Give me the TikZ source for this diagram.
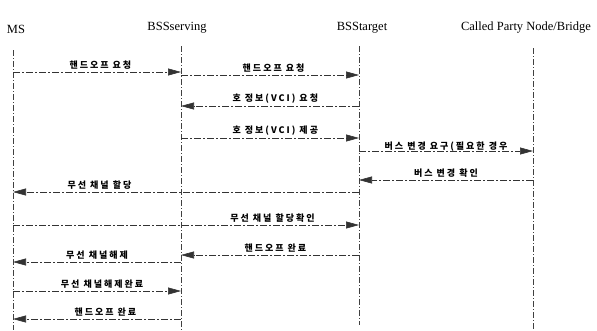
\documentclass[tikz,border=0pt]{standalone}
\usepackage{fontspec}
\setmainfont{Liberation Serif}
\newfontfamily\kor[LetterSpace=22]{Noto Sans CJK KR}
\usetikzlibrary{arrows.meta}
\tikzset{
  hdr/.style={font=\fontsize{12.5}{14}\selectfont, inner sep=0pt},
  life/.style={draw=black!75, line width=0.6pt, dash pattern=on 6pt off 2pt on 1pt off 2pt},
  msg/.style={draw=black!80, line width=0.6pt, dash pattern=on 7pt off 2pt on 2pt off 2pt,
    -{Triangle[length=13pt,width=7pt]}},
  lbl/.style={font=\kor\bfseries\fontsize{9}{11}\selectfont, inner sep=1pt, anchor=south, yshift=1.5pt}
}
\begin{document}
\begin{tikzpicture}[x=1pt,y=-1pt]
\useasboundingbox (0,0) rectangle (597,330);
% headers
\node[hdr] (hms) at (16,29) {MS};
\node[hdr] (hsrv) at (177,28) {BSSserving};
\node[hdr] (htgt) at (362,28) {BSStarget};
\node[hdr] (hcpn) at (526,28) {Called Party Node/Bridge};
% lifelines
\coordinate (msT) at (13,50);   \coordinate (msB) at (13,330);
\coordinate (srvT) at (181,46); \coordinate (srvB) at (181,330);
\coordinate (tgtT) at (359,46); \coordinate (tgtB) at (359,325);
\coordinate (cpnT) at (533,48); \coordinate (cpnB) at (533,330);
\draw[life] (msT) -- (msB);
\draw[life] (srvT) -- (srvB);
\draw[life] (tgtT) -- (tgtB);
\draw[life] (cpnT) -- (cpnB);
% messages
\draw[msg] (msT |- 0,72) -- node[lbl, pos=0.52] {핸드오프 요청} (srvT |- 0,72);
\draw[msg] (srvT |- 0,75) -- node[lbl, pos=0.52] {핸드오프 요청} (tgtT |- 0,75);
\draw[msg] (tgtT |- 0,106) -- node[lbl, pos=0.47] {호 정보(VCI) 요청} (srvT |- 0,106);
\draw[msg] (srvT |- 0,138) -- node[lbl, pos=0.53] {호 정보(VCI) 제공} (tgtT |- 0,138);
\draw[msg] (tgtT |- 0,151) -- node[lbl, pos=0.5, yshift=-3pt] {버스 변경 요구(필요한 경우} (cpnT |- 0,151);
\draw[msg] (cpnT |- 0,180) -- node[lbl, pos=0.5] {버스 변경 확인} (tgtT |- 0,180);
\draw[msg] (tgtT |- 0,192) -- node[lbl, pos=0.75] {무선 채널 할당} (msT |- 0,192);
\draw[msg] (msT |- 0,225) -- node[lbl, pos=0.75] {무선 채널 할당확인} (tgtT |- 0,225);
\draw[msg] (tgtT |- 0,255) -- node[lbl, pos=0.47] {핸드오프 완료} (srvT |- 0,255);
\draw[msg] (srvT |- 0,262) -- node[lbl, pos=0.5] {무선 채널해제} (msT |- 0,262);
\draw[msg] (msT |- 0,291) -- node[lbl, pos=0.53] {무선 채널해제완료} (srvT |- 0,291);
\draw[msg] (srvT |- 0,319) -- node[lbl, pos=0.45] {핸드오프 완료} (msT |- 0,319);
\end{tikzpicture}
\end{document}
